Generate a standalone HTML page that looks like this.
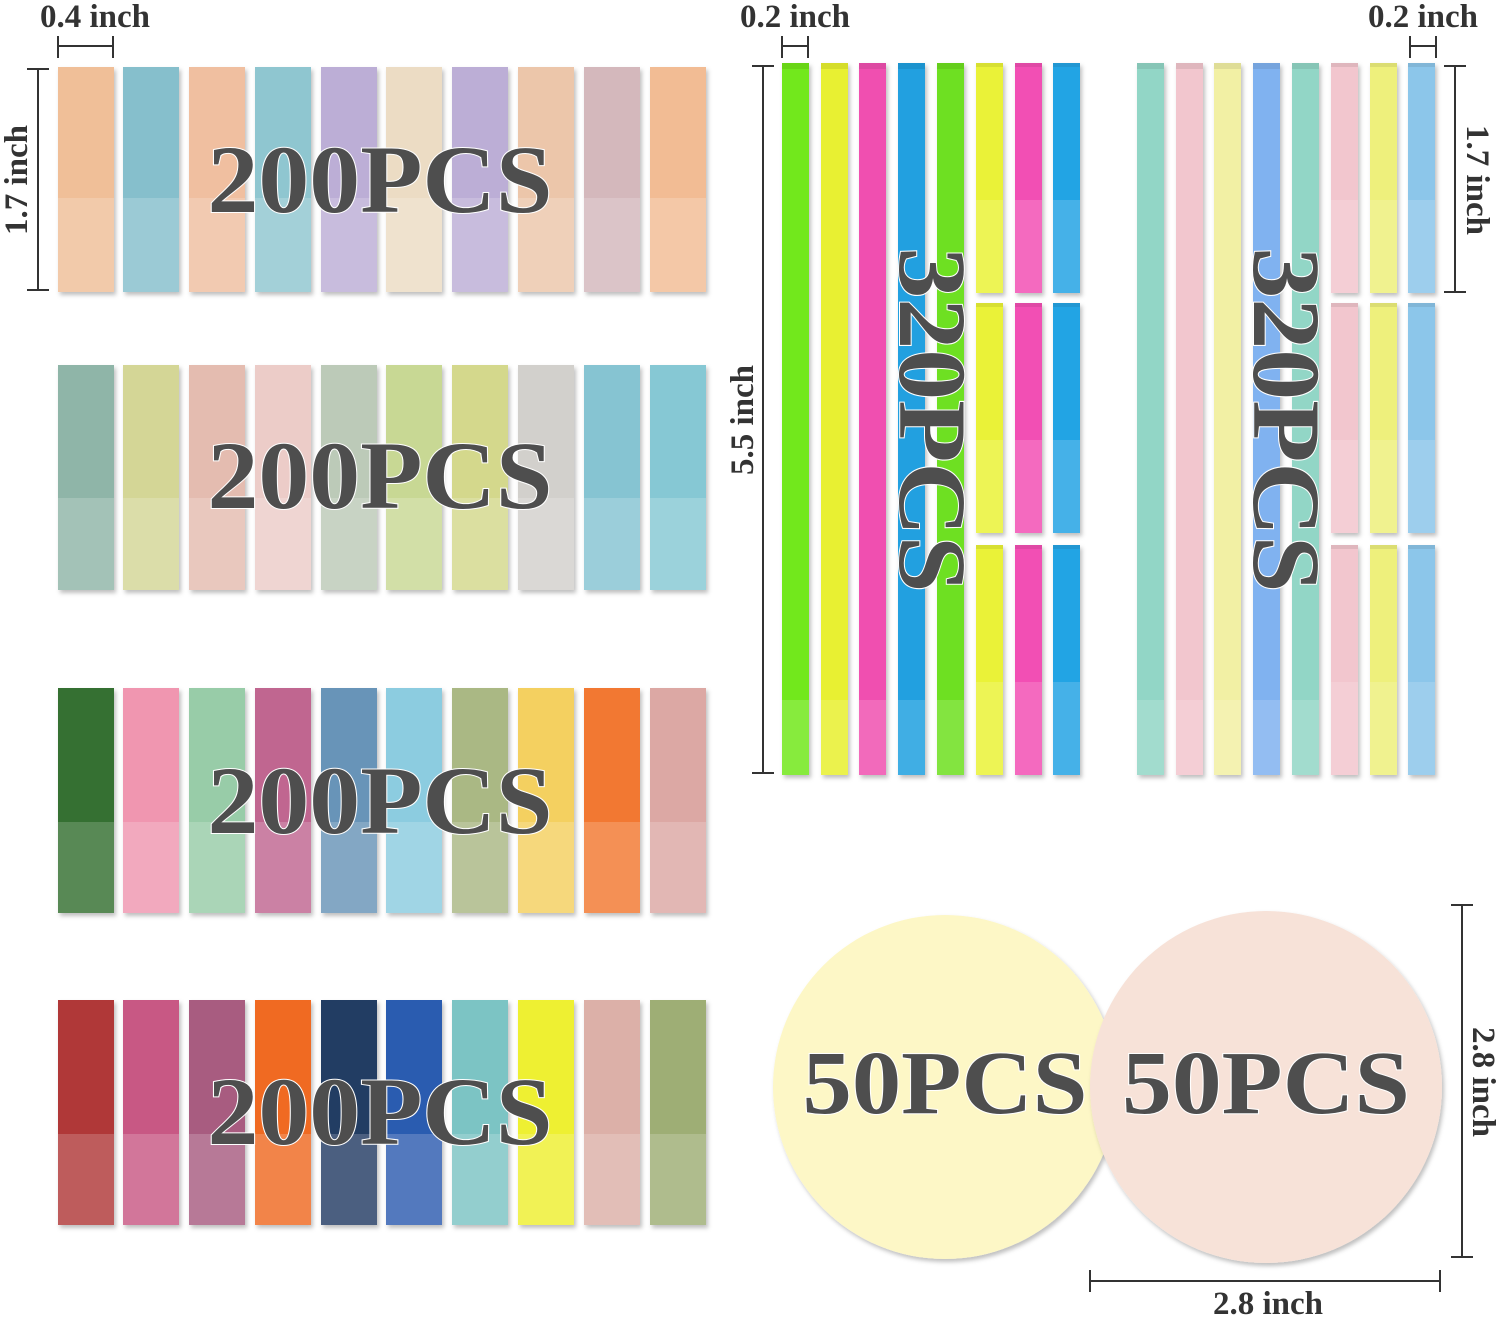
<!DOCTYPE html>
<html><head><meta charset="utf-8"><style>
html,body{margin:0;padding:0;background:#fff;}
svg{display:block;}
.t{font-family:"Liberation Serif",serif;font-weight:bold;}
</style></head><body>
<svg width="1500" height="1318" viewBox="0 0 1500 1318" xmlns="http://www.w3.org/2000/svg">
<defs>
<filter id="sh" x="-20%" y="-20%" width="140%" height="140%"><feDropShadow dx="2" dy="3" stdDeviation="2" flood-color="#000" flood-opacity="0.25"/></filter>
</defs>
<g id="tabs" filter="url(#sh)"></g>
<g id="strips" filter="url(#sh)"></g>
<circle cx="945" cy="1087" r="172" fill="#fdf7c6" filter="url(#sh)"/>
<circle cx="1266" cy="1087" r="176" fill="#f7e2d8" filter="url(#sh)"/>
<g class="t" fill="#4e4e4e" stroke="#fff" stroke-width="2" paint-order="stroke">
<text x="380" y="212" font-size="96" text-anchor="middle" textLength="345" lengthAdjust="spacingAndGlyphs">200PCS</text>
<text x="380" y="508" font-size="96" text-anchor="middle" textLength="345" lengthAdjust="spacingAndGlyphs">200PCS</text>
<text x="380" y="833" font-size="96" text-anchor="middle" textLength="345" lengthAdjust="spacingAndGlyphs">200PCS</text>
<text x="380" y="1144" font-size="96" text-anchor="middle" textLength="345" lengthAdjust="spacingAndGlyphs">200PCS</text>
<text x="945" y="1113" font-size="90" text-anchor="middle" textLength="285" lengthAdjust="spacingAndGlyphs">50PCS</text>
<text x="1266" y="1113" font-size="90" text-anchor="middle" textLength="288" lengthAdjust="spacingAndGlyphs">50PCS</text>
<text transform="translate(900,420) rotate(90)" font-size="96" text-anchor="middle" textLength="345" lengthAdjust="spacingAndGlyphs">320PCS</text>
<text transform="translate(1254,420) rotate(90)" font-size="96" text-anchor="middle" textLength="345" lengthAdjust="spacingAndGlyphs">320PCS</text>
</g>
<g stroke="#333" stroke-width="2" fill="none">
<path d="M58 36V58M113 36V58M58 46H113"/>
<path d="M27 69H49M27 290H49M38 69V290"/>
<path d="M782 36V58M808 36V58M782 46H808"/>
<path d="M752 66H774M752 773H774M763 66V773"/>
<path d="M1410 36V58M1436 36V58M1410 46H1436"/>
<path d="M1444 66H1466M1444 292H1466M1455 66V292"/>
<path d="M1451 905H1473M1451 1257H1473M1462 905V1257"/>
<path d="M1090 1270V1292M1440 1270V1292M1090 1281H1440"/>
</g>
<g class="t" fill="#333" font-size="33">
<text x="95" y="27" text-anchor="middle">0.4 inch</text>
<text x="795" y="27" text-anchor="middle">0.2 inch</text>
<text x="1423" y="27" text-anchor="middle">0.2 inch</text>
<text x="1268" y="1314" text-anchor="middle">2.8 inch</text>
<text transform="translate(27,180) rotate(-90)" text-anchor="middle">1.7 inch</text>
<text transform="translate(753,420) rotate(-90)" text-anchor="middle">5.5 inch</text>
<text transform="translate(1467,180) rotate(90)" text-anchor="middle">1.7 inch</text>
<text transform="translate(1473,1082) rotate(90)" text-anchor="middle">2.8 inch</text>
</g>
</svg>
<script>
var NS="http://www.w3.org/2000/svg";
function r(g,x,y,w,h,c,o){var e=document.createElementNS(NS,"rect");e.setAttribute("x",x);e.setAttribute("y",y);e.setAttribute("width",w);e.setAttribute("height",h);e.setAttribute("fill",c);if(o!=null)e.setAttribute("fill-opacity",o);g.appendChild(e);return e;}
var tg=document.getElementById("tabs");
var xs=[58,123,189,255,321,386,452,518,584,650];
var rows=[
[67,198,["#f0bf98","#86bfcc","#f0bfa0","#8fc6d0","#bcaed6","#ecdcc4","#bcaed6","#ecc6aa","#d4b8bc","#f2bc94"]],
[365,498,["#8fb5a8","#d4d696","#e4bcb0","#ecccc8","#bccab8","#c8d894","#d4d88c","#d2d0cc","#86c4d2","#86c8d4"]],
[688,822,["#357030","#f096b0","#98cca8","#c06690","#6894b8","#8ccce0","#aab884","#f4d060","#f27830","#dca8a4"]],
[1000,1134,["#b03838","#c85884","#a85c80","#f06a20","#243c64","#2c5cb0","#7cc4c4","#eef030","#dcb0a8","#9eae74"]]];
rows.forEach(function(R){xs.forEach(function(x,i){
 var g=document.createElementNS(NS,"g");tg.appendChild(g);
 r(g,x,R[0],56,225,R[2][i]);
 r(g,x,R[1],56,R[0]+225-R[1],"#fff",0.18);
});});
var sg=document.getElementById("strips");
function strip(x,c,split){
 if(!split){r(sg,x,63,27,712,c);r(sg,x,63,27,6,"#000",0.08);r(sg,x,700,27,75,"#fff",0.15);}
 else{[[63,293],[303,533],[545,775]].forEach(function(s){r(sg,x,s[0],27,s[1]-s[0],c);r(sg,x,s[0],27,4,"#000",0.08);r(sg,x,s[0]+137,27,s[1]-s[0]-137,"#fff",0.15);});}
}
var m=[[782,"#72e81c",0],[821,"#e8f030",0],[859,"#f050b0",0],[898,"#20a0e0",0],[937,"#6ee020",0],[976,"#eaf238",1],[1015,"#f250b4",1],[1053,"#24a4e4",1],
[1137,"#92d6c6",0],[1176,"#f2c6ce",0],[1214,"#f2f0a4",0],[1253,"#80b2f0",0],[1292,"#92d6c6",0],[1331,"#f2c6ce",1],[1370,"#eef07c",1],[1408,"#8cc6ea",1]];
m.forEach(function(a){strip(a[0],a[1],a[2]);});
</script>
</body></html>
